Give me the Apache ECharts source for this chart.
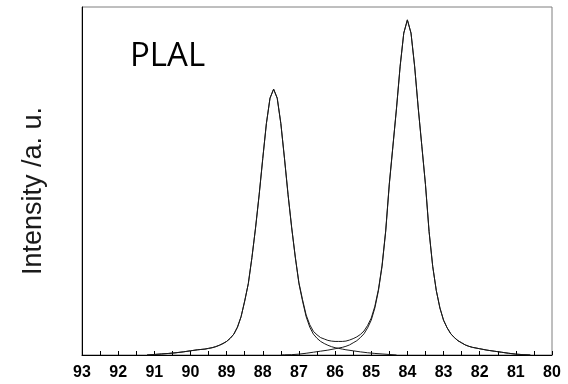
<!DOCTYPE html>
<html>
<head>
<meta charset="utf-8">
<script src="https://cdn.jsdelivr.net/npm/echarts@6/dist/echarts.min.js"></script>
<style>
html,body{margin:0;padding:0;background:#fff;}
#chart{width:568px;height:384px;}
</style>
</head>
<body>
<div id="chart"></div>
<script>
// Binding energy (eV) and intensity (a.u.)
var envX = [91.2,91.0,90.8,90.6,90.4,90.2,90.0,89.8,89.6,89.5,89.4,89.3,89.2,89.1,89.0,88.9,88.8,88.7,88.6,88.5,88.4,88.3,88.2,88.1,88.0,87.9,87.8,87.7,87.6,87.5,87.4,87.3,87.2,87.1,87.0,86.9,86.8,86.7,86.6,86.5,86.4,86.3,86.2,86.1,86.0,85.9,85.8,85.7,85.6,85.5,85.4,85.3,85.2,85.1,85.0,84.9,84.8,84.7,84.6,84.5,84.4,84.3,84.2,84.1,84.0,83.9,83.8,83.7,83.6,83.5,83.4,83.3,83.2,83.1,83.0,82.9,82.8,82.7,82.6,82.5,82.4,82.3,82.2,82.0,81.8,81.6,81.4,81.2,81.0,80.8,80.6];
var envY = [0,0.15,0.3,0.45,0.65,0.9,1.2,1.5,1.7,1.9,2.1,2.4,2.8,3.3,3.9,4.8,6,8,11,15.5,20.5,28,36.5,46,56.5,66.5,73.8,76.4,73.8,66.5,56.6,46.1,36.6,28.2,20.8,15.9,11.5,8.7,6.8,5.8,5.0,4.6,4.2,4.0,3.9,3.9,3.9,4.0,4.3,4.7,5.2,5.9,6.9,8.5,10.6,14.0,18.9,25.8,35.7,49.2,60.1,71,83,92.5,96.3,92.5,83,71,60,49,35.5,25.5,18.5,13.5,10,7.8,6.1,5.0,4.1,3.5,2.9,2.5,2.2,1.8,1.4,1.1,0.8,0.5,0.25,0.1,0];

var peak1X = [91.2,91.0,90.8,90.6,90.4,90.2,90.0,89.8,89.6,89.5,89.4,89.3,89.2,89.1,89.0,88.9,88.8,88.7,88.6,88.5,88.4,88.3,88.2,88.1,88.0,87.9,87.8,87.7,87.6,87.5,87.4,87.3,87.2,87.1,87.0,86.9,86.8,86.7,86.6,86.5,86.4,86.3,86.2,86.1,86.0,85.9,85.8,85.7,85.5,85.3,85.1,84.9,84.7,84.5,84.3];
var peak1Y = [0,0.15,0.3,0.45,0.65,0.9,1.2,1.5,1.7,1.9,2.1,2.4,2.8,3.3,3.9,4.8,6,8,11,15.5,20.5,28,36.5,46,56.5,66.5,73.8,76.4,73.8,66.5,56.5,46,36.5,28,20.5,15.5,11,8,6,4.8,3.9,3.3,2.8,2.4,2.1,1.9,1.7,1.5,1.2,0.9,0.65,0.45,0.3,0.15,0];

var peak2X = [87.5,87.4,87.2,87.0,86.8,86.6,86.4,86.2,86.0,85.9,85.8,85.7,85.6,85.5,85.4,85.3,85.2,85.1,85.0,84.9,84.8,84.7,84.6,84.5,84.4,84.3,84.2,84.1,84.0,83.9,83.8,83.7,83.6,83.5,83.4,83.3,83.2,83.1,83.0,82.9,82.8,82.7,82.6,82.5,82.4,82.3,82.2,82.0,81.8,81.6,81.4,81.2,81.0,80.8,80.6];
var peak2Y = [0,0.05,0.1,0.25,0.5,0.8,1.1,1.4,1.8,2.0,2.2,2.5,2.9,3.5,4.1,5.0,6.1,7.8,10,13.5,18.5,25.5,35.5,49,60,71,83,92.5,96.3,92.5,83,71,60,49,35.5,25.5,18.5,13.5,10,7.8,6.1,5.0,4.1,3.5,2.9,2.5,2.2,1.8,1.4,1.1,0.8,0.5,0.25,0.1,0];

var xTickMin = 80, xTickMax = 93;
var yLabel = 'Intensity /a. u.';
var sampleLabel = 'PLAL';

function zip(xs, ys){ var o=[]; for(var i=0;i<xs.length;i++){ o.push([xs[i], ys[i]]); } return o; }

var chart = echarts.init(document.getElementById('chart'), null, {renderer:'canvas'});
var lineStyle = {color:'#1a1a1a', width:1};
chart.setOption({
  animation:false,
  backgroundColor:'#fff',
  grid:{left:82, right:16, top:7, bottom:29, show:true, borderColor:'#7f7f7f', borderWidth:1, backgroundColor:'transparent'},
  xAxis:{
    type:'value', min:xTickMin, max:xTickMax, interval:1, inverse:true,
    axisLine:{show:true, onZero:false, lineStyle:{color:'#000', width:1}},
    axisTick:{show:true, inside:true, length:4, lineStyle:{color:'#000'}},
    minorTick:{show:true, splitNumber:2, length:4, lineStyle:{color:'#000'}},
    splitLine:{show:false},
    axisLabel:{color:'#000', fontSize:16, fontWeight:'bold', fontFamily:"'Liberation Sans'", margin:10}
  },
  yAxis:{
    type:'value', min:0, max:100,
    axisLine:{show:true, lineStyle:{color:'#000', width:1}},
    axisTick:{show:false}, axisLabel:{show:false}, splitLine:{show:false}
  },
  graphic:[
    {type:'text', x:34, y:191, rotation:Math.PI/2,
     style:{text:yLabel, fill:'#1a1a1a', font:"27px 'Liberation Sans', Arial, sans-serif", textAlign:'center', textVerticalAlign:'middle'}},
    {type:'text', x:130, y:57,
     style:{text:sampleLabel, fill:'#000', font:"33px 'Open Sans', sans-serif", textAlign:'left', textVerticalAlign:'middle'}}
  ],
  series:[
    {type:'line', data:zip(peak1X, peak1Y), showSymbol:false, lineStyle:lineStyle, z:2},
    {type:'line', data:zip(peak2X, peak2Y), showSymbol:false, lineStyle:lineStyle, z:2},
    {type:'line', data:zip(envX, envY), showSymbol:false, lineStyle:lineStyle, z:3}
  ]
});
</script>
</body>
</html>
